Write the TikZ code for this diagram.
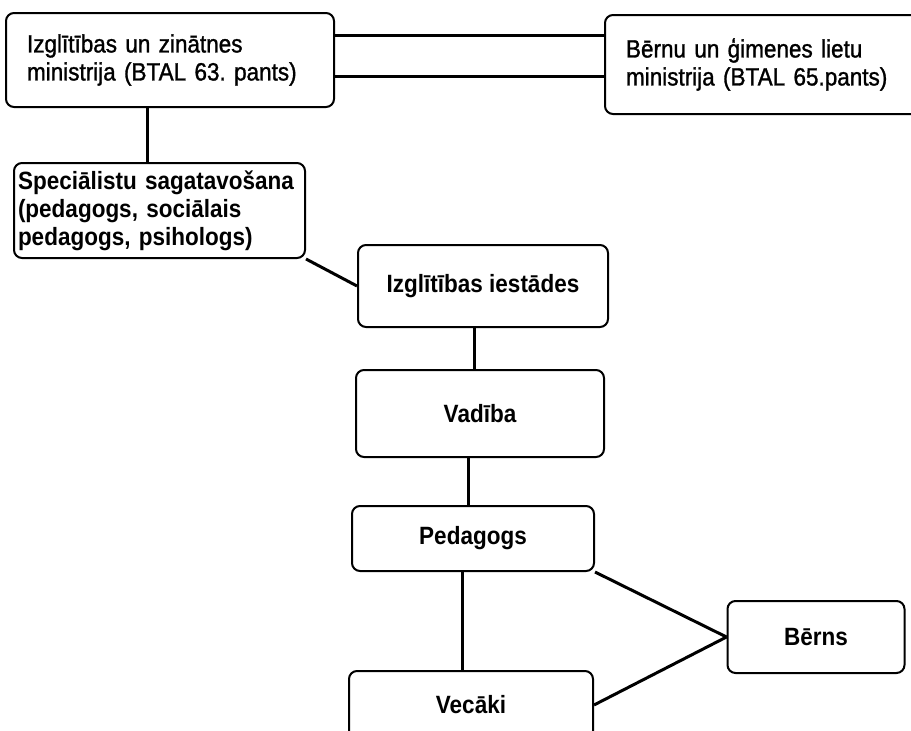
\documentclass[tikz,border=0pt]{standalone}
\usepackage{fontspec}
\setmainfont{Liberation Sans}[FakeStretch=0.9]
\newfontfamily\ministryfont{Liberation Sans}[FakeStretch=0.9,FakeBold=1.2]
\frenchspacing
\begin{document}
\begin{tikzpicture}[x=1pt,y=-1pt,
  box/.style={draw,line width=2pt,rounded corners=8pt,inner sep=0pt},
  wide/.style={box,align=left,inner xsep=21pt,font=\ministryfont\fontsize{25}{28}\selectfont},
  small/.style={box,font=\bfseries\fontsize{25}{28}\selectfont},
  link/.style={line width=3pt}]
\useasboundingbox (0,0) rectangle (911,731);
\node[wide,text width=286pt,minimum height=94pt] (1) at (170,60) {Izglītības un zinātnes\\ministrija (BTAL 63. pants)};
\node[wide,text width=278pt,minimum height=99pt] (2) at (765,64.5) {Bērnu un ģimenes lietu\\ministrija (BTAL 65.pants)};
\node[small,align=left,inner xsep=4pt,text width=283pt,minimum height=95pt] (3) at (159.5,210.5) {Speciālistu sagatavošana\\(pedagogs, sociālais\\pedagogs, psihologs)};
\node[small,minimum width=250pt,minimum height=82pt] (4) at (483,286) {Izglītības iestādes};
\node[small,minimum width=248pt,minimum height=87pt] (5) at (480,413.5) {Vadība};
\node[small,minimum width=242pt,minimum height=65pt] (6) at (473,538.5) {Pedagogs};
\node[small,minimum width=177pt,minimum height=72pt] (7) at (816,637) {Bērns};
\node[small,minimum width=244pt,minimum height=68pt] (8) at (471,705) {Vecāki};
\draw[link] ([yshift=25pt]1.east) -- ([yshift=25pt]1.east -| 2.west);
\draw[link] ([yshift=-16pt]1.east) -- ([yshift=-16pt]1.east -| 2.west);
\draw[link] ([xshift=-23pt]1.south) -- ([xshift=-23pt]1.south |- 3.north);
\draw[link] (3.south east) -- (4.west);
\draw[link] ([xshift=-9pt]4.south) -- ([xshift=-9pt]4.south |- 5.north);
\draw[link] ([xshift=-12pt]5.south) -- ([xshift=-12pt]5.south |- 6.north);
\draw[link] ([xshift=-11pt]6.south) -- ([xshift=-11pt]6.south |- 8.north);
\draw[link] (6.south east) -- (7.west);
\draw[link] (8.east) -- (7.west);
\end{tikzpicture}
\end{document}
